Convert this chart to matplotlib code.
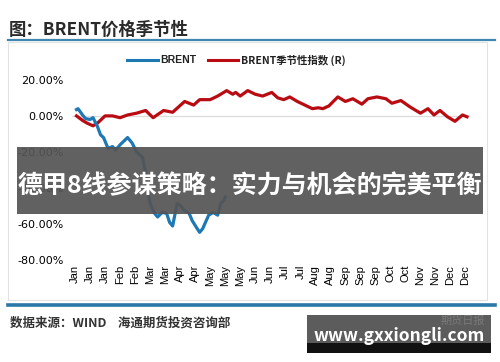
import matplotlib
matplotlib.use("Agg")
import matplotlib.pyplot as plt
from matplotlib.patches import Rectangle
from matplotlib.lines import Line2D

plt.rcParams['font.family'] = ['Noto Sans CJK SC', 'DejaVu Sans']

# ---- data ----
month_labels = ["Jan", "Jan", "Jan", "Feb", "Feb", "Mar", "Mar", "Apr", "Apr",
                "May", "May", "May", "Jun", "Jun", "Jul", "Jul", "Aug", "Aug",
                "Sep", "Sep", "Sep", "Oct", "Oct", "Nov", "Nov", "Dec", "Dec"]
tick_step = 10

red_x = [1, 5, 8, 12, 15, 20, 25, 30, 35, 41, 47, 52, 59, 65, 73, 79, 83, 90,
         95, 101, 105, 107, 110, 115, 120, 125, 128, 131, 135, 139, 143, 148,
         153, 158, 162, 165, 169, 175, 180, 185, 191, 195, 201, 207, 211, 217,
         223, 230, 235, 239, 243, 248, 253, 258, 261]
red_y = [0, -2.5, -4, -5.5, -4, 0, 0, -1, 0.5, 1.5, 3, -1, 3, 2, 8, 6, 9, 9,
         11, 14, 12, 13, 11, 14, 12, 11, 12, 13, 10, 9, 10.5, 8,
         6, 4, 4.5, 4, 5.5, 10.5, 8, 9.5, 6.5, 9.5, 10.5, 9.5, 7, 8.5,
         5, 1.5, 4, 0.5, 3, -0.5, -3, 0.5, -0.5]

blue_x = [1, 2, 5, 7, 10, 12, 15, 17, 19, 22, 25, 27, 30, 35, 38, 41, 45, 47,
          48, 50, 53, 55, 58, 61, 63, 65, 68, 70, 73, 76, 78, 81, 83, 85, 89,
          92, 95, 97, 99, 100]
blue_y = [3.5, 4, 0.5, -1.5, -2, -1, -6, -10.5, -12, -18, -17, -19, -16, -12,
          -15, -20, -23, -32, -40, -48.5, -54, -56, -53.5, -54, -59, -61, -48.5,
          -49.5, -52.5, -54, -58, -62, -64.5, -62.5, -55, -53.5, -55, -48.5,
          -47, -45]

y_ticks = [20, 0, -20, -40, -60, -80]

# ---- figure ----
fig = plt.figure(figsize=(5.0, 3.62), dpi=100)
fig.patch.set_facecolor("white")

# chart frame
fig.patches.append(Rectangle((0.016, 0.17), 0.958, 0.715, transform=fig.transFigure,
                             facecolor="none", edgecolor="#e2e2e2", lw=0.8, zorder=0))

ax = fig.add_axes([0.144, 0.276, 0.796, 0.531])
ax.set_zorder(2)
ax.plot(red_x, red_y, color="#b80c12", lw=2.3, zorder=3)
ax.plot(blue_x, blue_y, color="#1d78b4", lw=2.3, zorder=4)
ax.axhline(0, color="#dcdcdc", lw=0.9, zorder=1)

ax.set_xlim(-2, 263)
ax.set_ylim(-81, 25.5)
ax.set_xticks([i * tick_step for i in range(len(month_labels))])
ax.set_xticklabels(month_labels, rotation=90, family=['Liberation Sans', 'DejaVu Sans'],
                   fontsize=8)
ax.set_yticks(y_ticks)
ax.set_yticklabels([f"{v:.2f}%" for v in y_ticks], family=['DejaVu Sans'], fontsize=8)
ax.tick_params(length=0, pad=2)
ax.tick_params(axis='y', pad=6)
for s in ax.spines.values():
    s.set_visible(False)
ax.set_facecolor("none")

# legend
fig.add_artist(Line2D([0.254, 0.316], [0.834, 0.834], color="#1d78b4", lw=2.2,
                      transform=fig.transFigure))
fig.text(0.32, 0.834, "BRENT", family=['Liberation Sans Narrow', 'Liberation Sans', 'DejaVu Sans'],
         fontsize=7.5, fontweight="bold", va="center", ha="left", color="#222222")
fig.add_artist(Line2D([0.416, 0.476], [0.834, 0.834], color="#b80c12", lw=2.2,
                      transform=fig.transFigure))
fig.text(0.482, 0.834, "BRENT季节性指数 (R)", fontsize=7.5, fontweight="bold",
         va="center", ha="left", color="#222222")

# title and rules
fig.text(0.018, 0.918, "图：BRENT价格季节性", fontsize=12.5, fontweight="bold",
         va="center", ha="left", color="#2a2a2a")
fig.add_artist(Line2D([0.016, 0.99], [0.889, 0.889], color="#3f86b0", lw=1.6,
                      transform=fig.transFigure))
fig.add_artist(Line2D([0.016, 0.99], [0.157, 0.157], color="#2a78a8", lw=2.6,
                      transform=fig.transFigure))
fig.text(0.02, 0.108, "数据来源：WIND    海通期货投资咨询部", fontsize=9, fontweight="bold",
         va="center", ha="left", color="#333333")

# overlay banner
fig.add_artist(Rectangle((0.034, 0.409), 0.932, 0.185, transform=fig.transFigure,
                         facecolor="#555555", alpha=0.93, edgecolor="none", zorder=10))
t = fig.text(0.036, 0.487, "德甲8线参谋策略：实力与机会的完美平衡", fontsize=18,
             fontweight="bold", color="white", va="center", ha="left", zorder=11)

# watermark
fig.add_artist(Rectangle((0.614, 0.025), 0.368, 0.105, transform=fig.transFigure,
                         facecolor="#5c5c5c", edgecolor="none", zorder=10))
fig.add_artist(Rectangle((0.614, 0.025), 0.368, 0.028, transform=fig.transFigure,
                         facecolor="#111111", edgecolor="none", zorder=10))
fig.text(0.97, 0.115, "期货日报", fontsize=8, color="#7a7a7a", va="center", ha="right",
         zorder=11)
fig.text(0.798, 0.072, "www.gxxiongli.com", fontsize=12.5, fontweight="bold",
         color="white", va="center", ha="center", zorder=11)

fig.savefig("out.png", dpi=100)
